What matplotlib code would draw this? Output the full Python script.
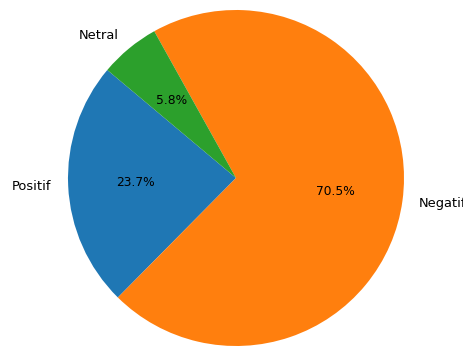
import matplotlib
matplotlib.use("Agg")
import matplotlib.pyplot as plt

labels = ["Positif", "Negatif", "Netral"]
values = [23.7, 70.5, 5.8]
colors = ["#1f77b4", "#ff7f0e", "#2ca02c"]

fig = plt.figure(figsize=(4.64, 3.47), dpi=100)
ax = fig.add_axes([0, 0, 1, 1])
wedges, texts, autotexts = ax.pie(values, labels=labels, colors=colors,
                                  autopct="%1.1f%%", startangle=140,
                                  textprops={"fontsize": 9.4})
for t in autotexts:
    t.set_fontsize(8.8)
# center at pixel (236, 178 from top), radius 168 px
r = 168.0
ax.set_aspect("auto")
ax.set_xlim(-236 / r, (464 - 236) / r)
ax.set_ylim(-(347 - 178) / r, 178 / r)
ax.axis("off")
fig.savefig("out.png", dpi=100)
